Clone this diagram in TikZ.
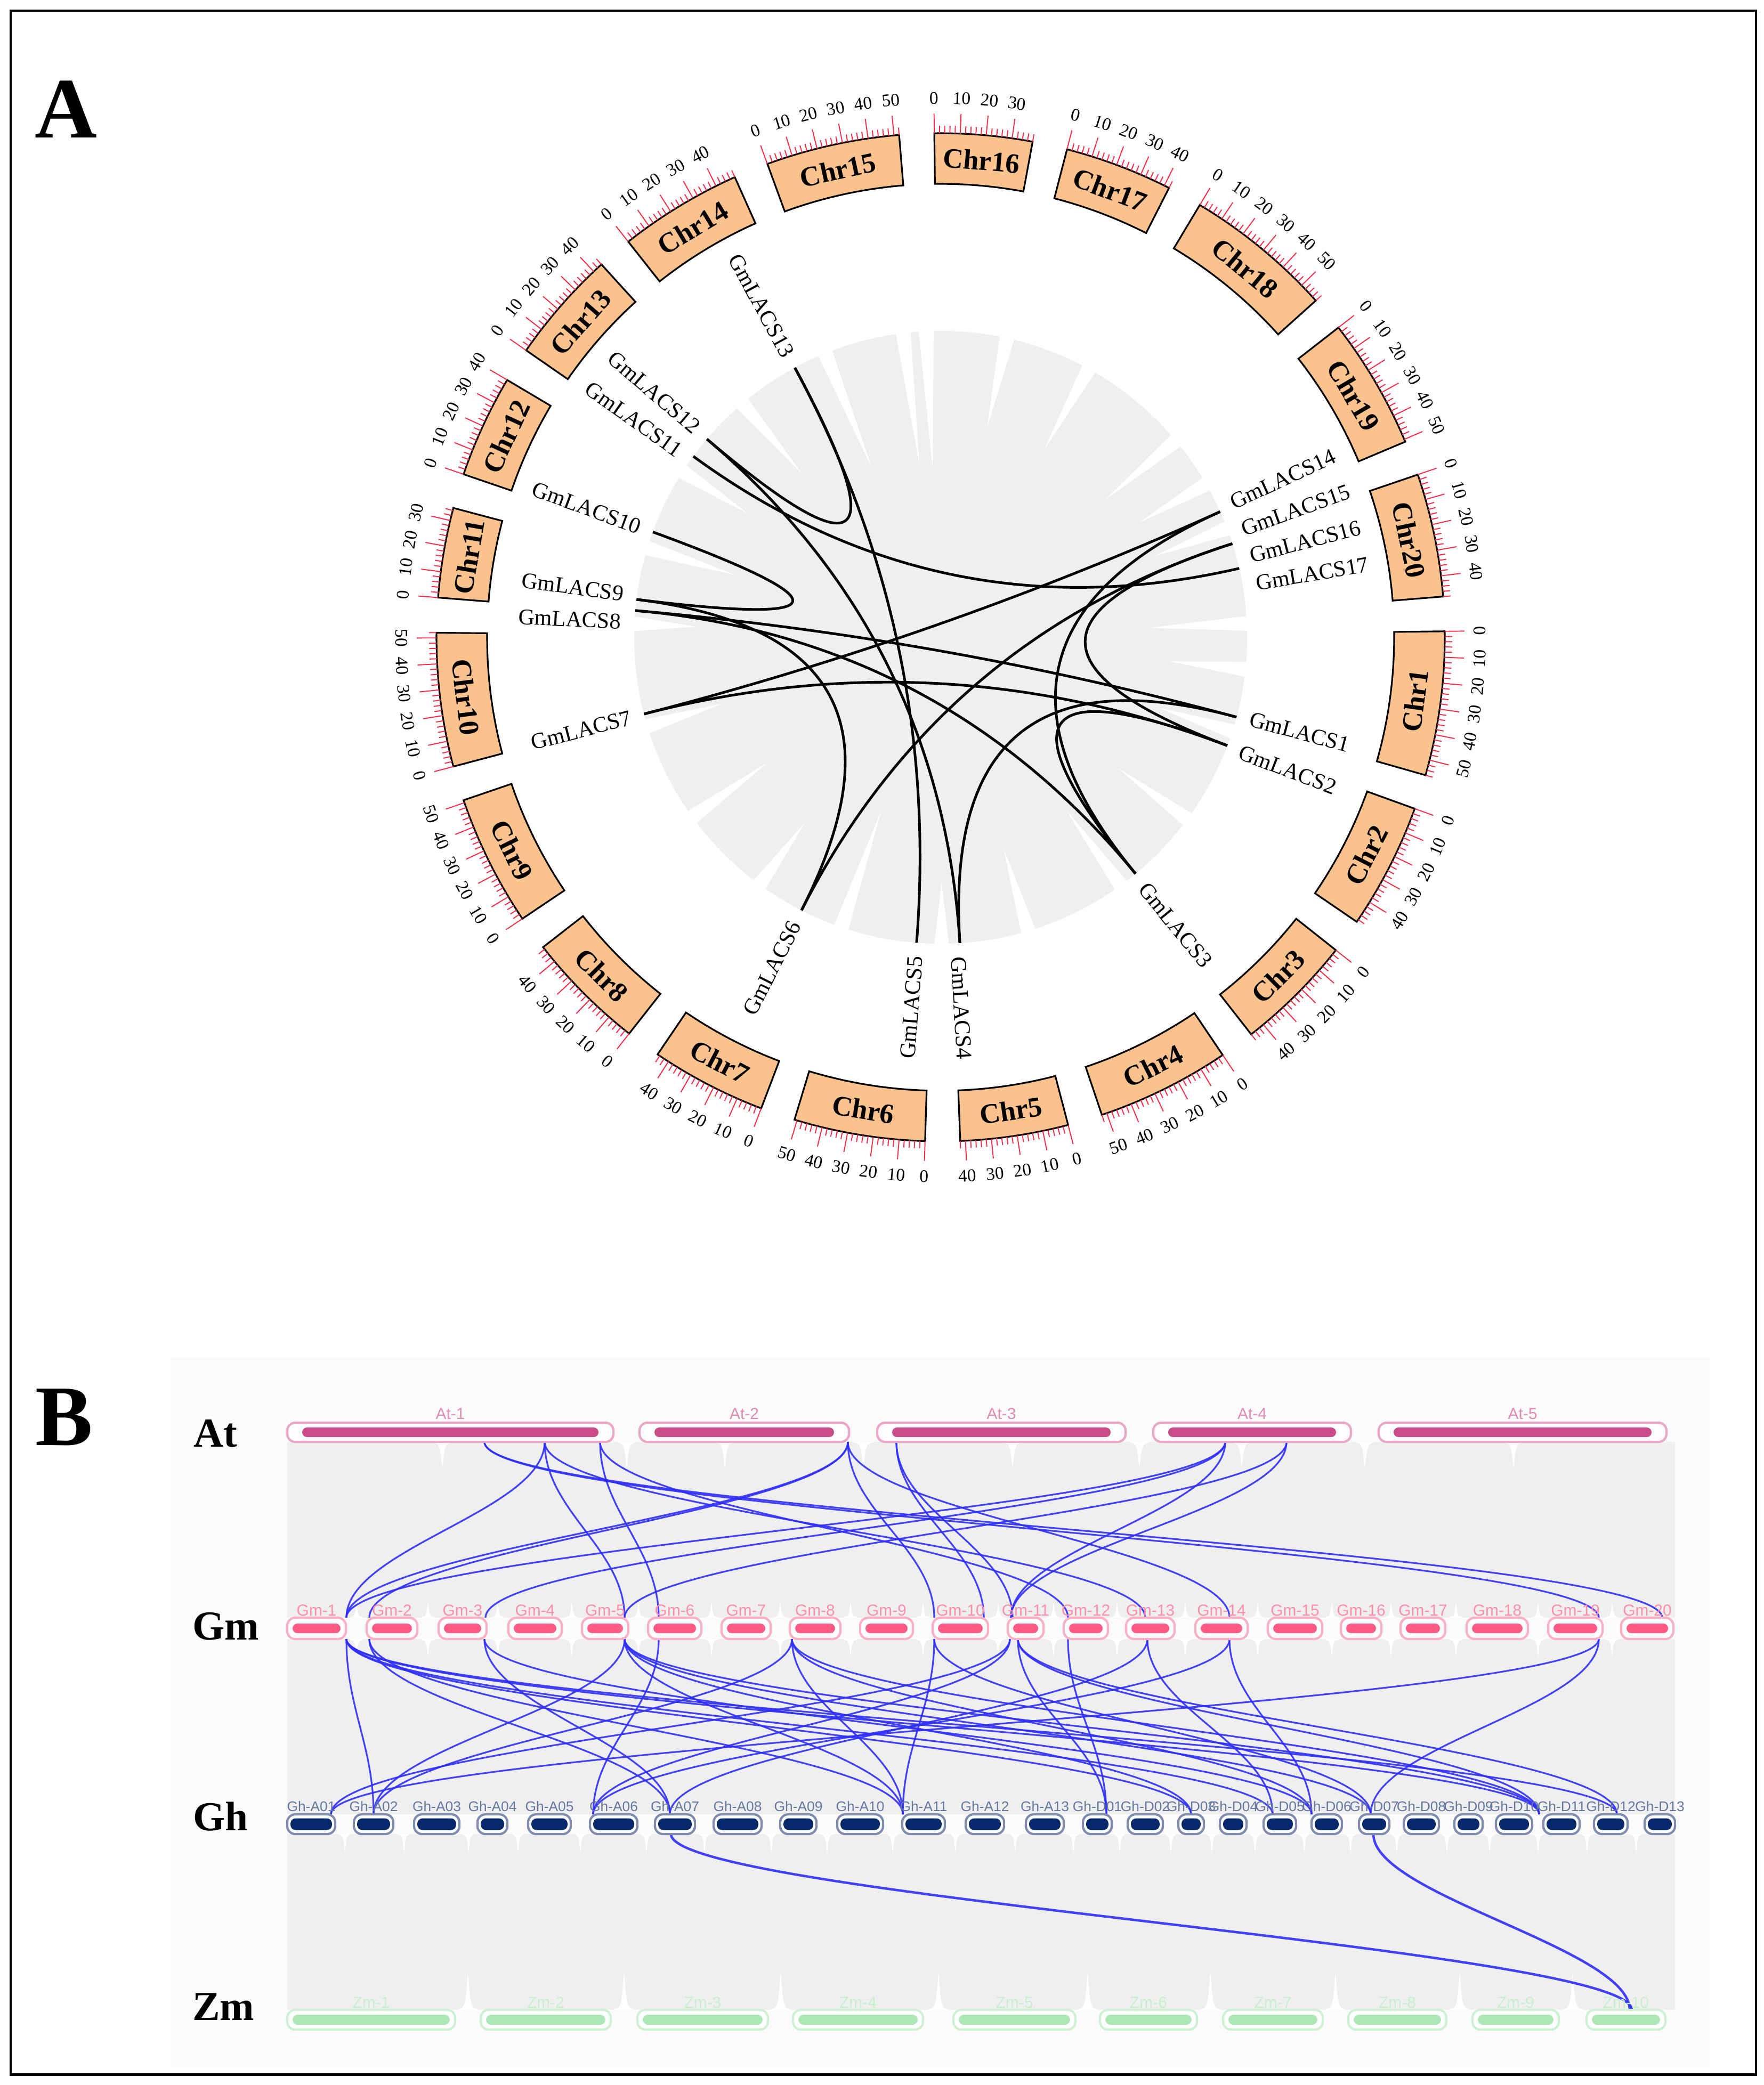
\documentclass[tikz,border=0pt]{standalone}
\usepackage{fontspec}
\setmainfont{Liberation Serif}
\newfontfamily\arialfont{Liberation Sans}
\usetikzlibrary{calc,positioning}

\definecolor{chrorange}{RGB}{250,194,140}
\definecolor{tickred}{RGB}{245,45,70}
\definecolor{ribbongray}{RGB}{239,239,239}
\definecolor{panelgray}{RGB}{251,251,251}
\definecolor{atdark}{RGB}{200,76,135}
\definecolor{atpale}{RGB}{235,165,200}
\definecolor{gmdark}{RGB}{255,92,133}
\definecolor{gmpale}{RGB}{255,175,195}
\definecolor{ghdark}{RGB}{8,40,108}
\definecolor{ghpale}{RGB}{125,140,175}
\definecolor{zmdark}{RGB}{172,232,182}
\definecolor{zmpale}{RGB}{205,242,210}
\definecolor{synblue}{RGB}{45,45,255}

\tikzset{
  chrbox/.style={draw=black, line width=0.9pt, fill=chrorange},
  chrname/.style={font=\fontsize{15}{15}\selectfont\bfseries, inner sep=0pt},
  rtick/.style={draw=tickred, line width=0.55pt},
  ticknum/.style={font=\fontsize{9.5}{9.5}\selectfont, inner sep=0pt},
  genename/.style={font=\fontsize{12}{12}\selectfont, inner sep=0pt},
  glink/.style={line width=1.4pt},
  blink/.style={draw=synblue, line width=0.9pt, opacity=0.9},
  rowname/.style={font=\fontsize{22}{22}\selectfont\bfseries},
  chrtag/.style={font=\arialfont\fontsize{8.5}{8.5}\selectfont, inner sep=0pt},
  ghtag/.style={font=\arialfont\fontsize{7.5}{7.5}\selectfont, inner sep=0pt},
  panelname/.style={font=\fontsize{46}{46}\selectfont\bfseries},
}

\begin{document}
\begin{tikzpicture}
\useasboundingbox (0,0) rectangle (33.10,-39.13);
\fill[white] (0,0) rectangle (33.10,-39.13);
\draw[line width=1.4pt] (0.2,-0.2) rectangle (32.95,-38.93);

\node[panelname] (labA) at (1.24,-2.05) {A};
\node[panelname] (labB) at (1.20,-26.60) {B};

% circos part
\begin{scope}[shift={(17.65,-11.96)}]
\coordinate (ctr) at (0,0);
\fill[ribbongray] (ctr) circle (5.75);
\foreach \a/\d in {2.6/0.68,112.1/0.6,92.7/0.55,77.5/0.7,61.1/0.7,39.9/0.7,20.8/0.75,-17.9/0.75,-36.4/0.72,-54/0.7,-73.4/0.72,-89.8/0.8,-108.9/0.6,-126.2/0.75,-144.1/0.7,-163.1/0.75,177.5/0.8,163.1/0.7,147.3/0.75,130.3/0.7,30/0.75,-6/0.75,97/0.57}
  \fill[white] ({\a-1.4}:5.8) -- (\a:{\d*5.75}) -- ({\a+1.4}:5.8) -- cycle;

\foreach \n/\s/\len in {1/0.68/56,2/-19.88/49,3/-38.37/46,4/-55.97/52,5/-75.35/42,6/-91.77/51,7/-110.85/45,8/-128.16/47,9/-146.06/51,10/-165.14/52,11/-184.52/35,12/-198.87/40,13/-214.70/44,14/-231.71/48,15/-249.90/52,16/-269.28/38,17/-284.52/42,18/-300.94/58,19/-322.09/51,20/-341.17/48}{
  \pgfmathsetmacro{\chrend}{\s-\len*0.2957}
  \pgfmathsetmacro{\chrmid}{(\s+\chrend)/2}
  \pgfmathsetmacro{\chrrot}{sin(\chrmid)>=0 ? \chrmid-90 : \chrmid+90}
  \draw[chrbox] (\s:8.51) arc[start angle=\s, end angle=\chrend, radius=8.51]
    -- (\chrend:9.46) arc[start angle=\chrend, end angle=\s, radius=9.46] -- cycle;
  \node[chrname, rotate=\chrrot] (chr\n) at (\chrmid:8.98) {Chr\n};
  \foreach \t in {0,2,...,\len}{
    \pgfmathsetmacro{\ta}{\s-\t*0.2957}
    \pgfmathtruncatemacro{\mj}{mod(\t,10)==0}
    \ifnum\mj=1
      \draw[rtick] (\ta:9.46) -- (\ta:9.83);
      \pgfmathsetmacro{\tr}{sin(\ta)>=0 ? \ta-90 : \ta+90}
      \node[ticknum, rotate=\tr] at (\ta:10.12) {\t};
    \else
      \draw[rtick] (\ta:9.46) -- (\ta:9.60);
    \fi
  }
}

\foreach \g/\a/\la in {1/-15.1/-14.8,2/-20.7/-20.9,3/-50.5/-50.8,4/-86.4/-86.8,5/-94.5/-94.5,6/-117/-117,7/-165.5/-165.5,8/175/177.2,9/172.9/172.2,10/159.9/159.9,11/143.8/144.6,12/139.7/139.5,13/118.4/118.4,14/24.2/24.8,15/17.8/19.7,16/13/14.7,17/11/9.7}{
  \coordinate (g\g) at (\a:5.75);
  \pgfmathtruncatemacro{\rside}{cos(\la)>=0}
  \ifnum\rside=1
    \node[genename, anchor=west, rotate=\la] (gl\g) at (\la:6.0) {GmLACS\g};
  \else
    \node[genename, anchor=east, rotate=\la+180] (gl\g) at (\la:6.0) {GmLACS\g};
  \fi
}
\end{scope}

\foreach \p/\q in {12/13,13/5,12/4,11/16,10/9,9/6,8/1,8/3,7/14,7/2,15/6,14/3,2/3,15/2,4/1}
  \draw[glink] (g\p) .. controls ($(g\p)!0.667!(ctr)$) and ($(g\q)!0.667!(ctr)$) .. (g\q);

% synteny part
\fill[panelgray] (3.20,-25.46) rectangle (32.07,-38.81);
\fill[ribbongray] (5.39,-27.06) rectangle (31.43,-30.36);
\fill[ribbongray] (5.39,-30.76) rectangle (31.43,-34.05);
\fill[ribbongray] (5.39,-34.42) rectangle (31.43,-37.72);

\foreach \x in {11.76,16.20,21.38,25.61,8.3,13.6,19.0,23.3,28.4}
  \fill[white] (\x-0.2,-27.06) .. controls (\x-0.05,-27.1) .. (\x,-27.56) .. controls (\x+0.05,-27.1) .. (\x+0.2,-27.06) -- cycle;
\foreach \x in {6.69,8.03,9.34,10.73,11.98,13.35,14.64,15.96,17.32,18.73,19.77,20.96,22.24,23.60,24.99,26.10,27.32,28.86,30.25}{
  \fill[white] (\x-0.14,-30.36) .. controls (\x-0.03,-30.33) .. (\x,-30.05) .. controls (\x+0.03,-30.33) .. (\x+0.14,-30.36) -- cycle;
  \fill[white] (\x-0.14,-30.76) .. controls (\x-0.03,-30.8) .. (\x,-31.1) .. controls (\x+0.03,-30.8) .. (\x+0.14,-30.76) -- cycle;
}
\foreach \x in {6.47,7.58,8.79,9.72,10.89,12.13,13.22,14.47,15.52,16.75,17.93,19.05,20.14,21.01,21.97,22.74,23.55,24.47,25.34,26.21,27.15,27.95,28.86,29.78,30.70}
  \fill[white] (\x-0.12,-34.42) .. controls (\x-0.03,-34.46) .. (\x,-34.8) .. controls (\x+0.03,-34.46) .. (\x+0.12,-34.42) -- cycle;
\foreach \x in {8.78,11.71,14.65,17.61,20.41,22.71,25.06,27.39,29.51}
  \fill[white] (\x-0.22,-37.72) .. controls (\x-0.05,-37.68) .. (\x,-37.0) .. controls (\x+0.05,-37.68) .. (\x+0.22,-37.72) -- cycle;

\foreach \xa/\xb in {10.22/6.50,10.22/11.72,10.22/21.49,9.09/30.00,9.09/31.19,11.26/12.36,11.26/20.04,15.91/6.50,15.91/6.93,15.91/17.53,15.91/23.07,16.82/18.46,16.82/19.00,22.99/6.50,22.99/9.11,22.99/18.97,24.14/11.72,24.14/18.97}{
  \coordinate (la) at (\xa,-27.06);
  \coordinate (lb) at (\xb,-30.36);
  \draw[blink] (la) .. controls +(0,-1.3) and +(0,1.3) .. (lb);
}
\foreach \xa/\xb in {6.50/7.01,6.50/22.35,6.50/23.88,6.50/28.88,6.50/30.34,6.93/12.57,6.93/16.94,9.09/12.57,9.09/24.61,11.72/7.01,11.72/16.94,11.72/22.35,11.72/25.72,11.72/28.88,12.36/11.13,14.86/7.01,14.86/16.94,14.86/24.61,14.86/28.88,17.53/16.94,17.53/25.72,18.95/6.21,18.95/11.13,19.10/20.76,19.10/28.88,19.10/30.34,20.04/20.76,21.53/12.57,21.53/23.88,23.07/24.61,23.07/11.13,30.00/6.21,30.00/25.72}{
  \coordinate (la) at (\xa,-30.76);
  \coordinate (lb) at (\xb,-34.05);
  \draw[blink] (la) .. controls +(0,-1.3) and +(0,1.3) .. (lb);
}
\foreach \xa/\xb in {12.59/30.62,25.77/30.58}{
  \coordinate (la) at (\xa,-34.42);
  \coordinate (lb) at (\xb,-37.72);
  \draw[blink, line width=1.3pt] (la) .. controls +(0,-1.15) and +(0,1.15) .. (lb);
}

\foreach \n/\a/\b in {1/5.39/11.51,2/12.00/15.93,3/16.46/21.12,4/21.64/25.35,5/25.87/31.27}{
  \draw[draw=atpale, line width=1.2pt, fill=white, rounded corners=0.15cm] (\a,-27.06) rectangle (\b,-26.70);
  \fill[atdark, rounded corners=0.09cm] (\a+0.28,-26.97) rectangle (\b-0.28,-26.79);
  \node[chrtag, text=atpale!70!atdark] (At\n) at ({(\a+\b)/2},-26.53) {At-\n};
}
\foreach \n/\a/\b in {1/5.39/6.49,2/6.88/7.83,3/8.23/9.13,4/9.54/10.54,5/10.92/11.79,6/12.16/13.16,7/13.54/14.46,8/14.82/15.77,9/16.14/17.13,10/17.50/18.54,11/18.91/19.58,12/19.96/20.79,13/21.13/22.04,14/22.43/23.41,15/23.79/24.81,16/25.16/25.92,17/26.28/27.12,18/27.52/28.67,19/29.05/30.07,20/30.42/31.40}{
  \draw[draw=gmpale, line width=1.2pt, fill=white, rounded corners=0.15cm] (\a,-30.76) rectangle (\b,-30.36);
  \fill[gmdark, rounded corners=0.09cm] (\a+0.1,-30.65) rectangle (\b-0.1,-30.47);
  \node[chrtag, text=gmpale!60!gmdark] (Gm\n) at ({(\a+\b)/2},-30.22) {Gm-\n};
}
\foreach \n/\a/\b in {A01/5.39/6.29,A02/6.64/7.38,A03/7.77/8.62,A04/8.96/9.52,A05/9.91/10.71,A06/11.07/11.96,A07/12.29/13.04,A08/13.39/14.29,A09/14.64/15.32,A10/15.71/16.57,A11/16.93/17.73,A12/18.12/18.84,A13/19.25/19.96,D01/20.32/20.86,D02/21.16/21.82,D03/22.11/22.59,D04/22.89/23.39,D05/23.71/24.32,D06/24.61/25.18,D07/25.50/26.07,D08/26.34/27.00,D09/27.29/27.82,D10/28.07/28.75,D11/28.96/29.64,D12/29.91/30.54,D13/30.86/31.43}{
  \draw[draw=ghpale, line width=1.2pt, fill=white, rounded corners=0.15cm] (\a,-34.42) rectangle (\b,-34.05);
  \fill[ghdark, rounded corners=0.1cm] (\a+0.06,-34.345) rectangle (\b-0.06,-34.125);
  \node[ghtag, text=ghpale!80!ghdark] (Gh\n) at ({(\a+\b)/2},-33.90) {Gh-\n};
}
\foreach \n/\a/\b in {1/5.39/8.54,2/9.02/11.46,3/11.96/14.41,4/14.88/17.32,5/17.89/20.18,6/20.64/22.46,7/22.95/24.82,8/25.30/27.14,9/27.63/29.25,10/29.77/31.25}{
  \draw[draw=zmpale, line width=1.2pt, fill=white, rounded corners=0.15cm] (\a,-38.09) rectangle (\b,-37.72);
  \fill[zmdark, rounded corners=0.1cm] (\a+0.1,-38.0) rectangle (\b-0.1,-37.81);
  \node[chrtag, text=zmpale!85!zmdark] (Zm\n) at ({(\a+\b)/2},-37.58) {Zm-\n};
}

\node[rowname] (rowAt) at (4.04,-26.90) {At};
\node[rowname] (rowGm) at (4.24,-30.52) {Gm};
\node[rowname] (rowGh) at (4.14,-34.09) {Gh};
\node[rowname] (rowZm) at (4.19,-37.66) {Zm};
\end{tikzpicture}
\end{document}
